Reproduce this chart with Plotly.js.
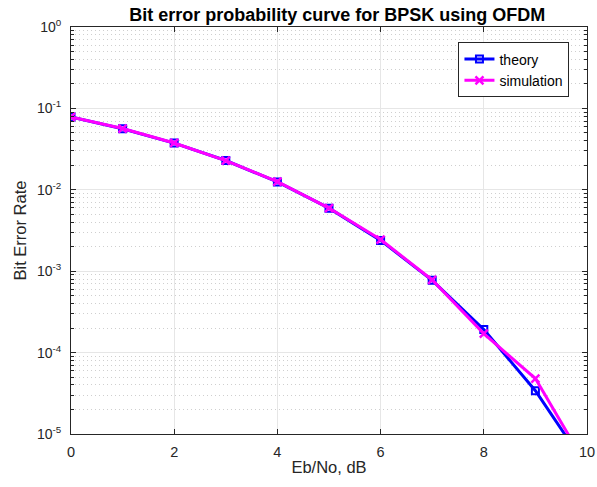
<!DOCTYPE html>
<html><head><meta charset="utf-8">
<script src="https://cdn.plot.ly/plotly-3.0.1.min.js"></script>
<style>html,body{margin:0;padding:0;background:#fff}</style>
</head><body><div id="chart" style="width:597px;height:487px"></div>
<script>
var ebno = [0,1,2,3,4,5,6,7,8,9,10];
var theory = [0.0786,0.0563,0.0375,0.0229,0.0125,0.00595,0.00239,0.000773,0.000192,0.0000340,0.0000039];
var simulation = [0.0785,0.0565,0.0376,0.0228,0.0126,0.00597,0.00245,0.000780,0.000171,0.0000480,0.0000040];
var yTickVals = [1e-5,1e-4,1e-3,1e-2,1e-1,1];
var yTickText = ['10<sup>-5</sup>','10<sup>-4</sup>','10<sup>-3</sup>','10<sup>-2</sup>','10<sup>-1</sup>','10<sup>0</sup>'];
var xTickVals = [0,2,4,6,8,10];

var traces = [
 {x: ebno, y: theory, name: 'theory', mode: 'lines+markers', line: {color: '#0000ff', width: 3},
  marker: {symbol: 'square-open', size: 7, color: '#0000ff', line: {width: 2}}},
 {x: ebno, y: simulation, name: 'simulation', mode: 'lines+markers', line: {color: '#ff00ff', width: 3},
  marker: {symbol: 'x-thin-open', size: 8, color: '#ff00ff', line: {width: 2.5, color: '#ff00ff'}}}
];
var axCol = '#262626';
var layout = {
 width: 597, height: 487,
 margin: {l: 71, r: 10, t: 27, b: 53},
 paper_bgcolor: '#fff', plot_bgcolor: '#fff',
 font: {family: 'Liberation Sans, Arial, sans-serif', size: 14, color: axCol},
 title: {text: '<b>Bit error probability curve for BPSK using OFDM</b>', x: 0.565, xanchor: 'center', y: 0.969, yanchor: 'middle', font: {size: 18, color: '#000'}},
 xaxis: {range: [0, 10], tickvals: xTickVals, showgrid: true, gridcolor: '#e6e6e6', gridwidth: 1,
  showline: true, linecolor: axCol, linewidth: 1, mirror: 'ticks', ticks: 'inside', ticklen: 5, tickcolor: axCol,
  zeroline: false, tickfont: {size: 14.5}, ticklabelstandoff: 5,
  title: {text: 'Eb/No, dB', font: {size: 16.5}, standoff: 2}},
 yaxis: {type: 'log', range: [-5, 0], tickvals: yTickVals, ticktext: yTickText, showgrid: true, gridcolor: '#e6e6e6', gridwidth: 1,
  showline: true, linecolor: axCol, linewidth: 1, mirror: 'ticks', ticks: 'inside', ticklen: 5, tickcolor: axCol,
  zeroline: false, tickfont: {size: 14}, ticklabelstandoff: 6,
  title: {text: 'Bit Error Rate', font: {size: 16.5}, standoff: 6},
  minor: {dtick: 'D1', showgrid: true, gridcolor: '#cfcfcf', griddash: '1px,3px', gridwidth: 1, ticks: 'inside', ticklen: 3, tickcolor: axCol}},
 legend: {x: 0.966, xanchor: 'right', y: 0.962, yanchor: 'top', bgcolor: '#fff', bordercolor: axCol, borderwidth: 1,
  font: {size: 14, color: '#000'}, tracegroupgap: 0, itemwidth: 30},
 showlegend: true
};
Plotly.newPlot('chart', traces, layout, {displayModeBar: false, staticPlot: true});
</script></body></html>
